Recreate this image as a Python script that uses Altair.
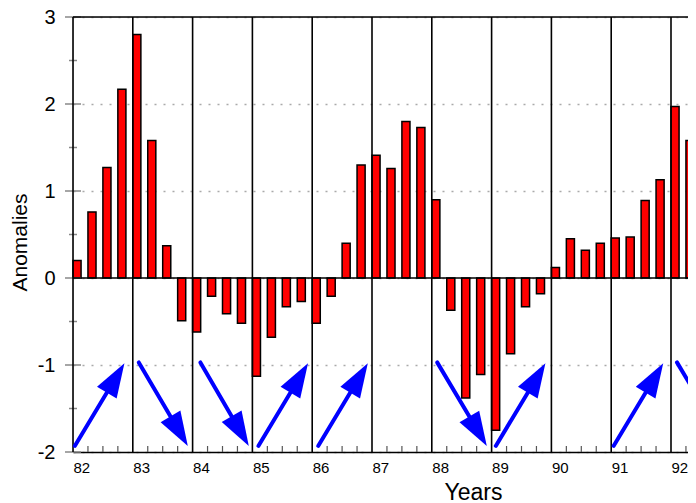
import math
import altair as alt
import pandas as pd

# ---- data ----
quarters = [82.0, 82.25, 82.5, 82.75, 83.0, 83.25, 83.5, 83.75,
            84.0, 84.25, 84.5, 84.75, 85.0, 85.25, 85.5, 85.75,
            86.0, 86.25, 86.5, 86.75, 87.0, 87.25, 87.5, 87.75,
            88.0, 88.25, 88.5, 88.75, 89.0, 89.25, 89.5, 89.75,
            90.0, 90.25, 90.5, 90.75, 91.0, 91.25, 91.5, 91.75,
            92.0, 92.25]
anomalies = [0.20, 0.76, 1.27, 2.17, 2.80, 1.58, 0.37, -0.49,
             -0.62, -0.21, -0.41, -0.52, -1.13, -0.68, -0.33, -0.27,
             -0.52, -0.21, 0.40, 1.30, 1.41, 1.26, 1.80, 1.73,
             0.90, -0.37, -1.38, -1.11, -1.75, -0.87, -0.33, -0.18,
             0.12, 0.45, 0.32, 0.40, 0.46, 0.47, 0.89, 1.13,
             1.97, 1.58]
years = [82, 83, 84, 85, 86, 87, 88, 89, 90, 91, 92]
arrow_x0 = [82.03, 83.10, 84.13, 85.10, 86.10, 88.09, 89.07, 91.04, 92.10]
arrow_y0 = [-1.93, -0.97, -0.97, -1.93, -1.93, -0.97, -1.93, -1.93, -0.97]
arrow_x1 = [82.86, 83.92, 84.94, 85.93, 86.93, 88.92, 89.90, 91.87, 92.93]
arrow_y1 = [-0.98, -1.93, -1.93, -0.98, -0.98, -1.93, -0.98, -0.98, -1.93]
y_major = [-2, -1, 0, 1, 2, 3]
y_minor = [-1.5, -0.5, 0.5, 1.5, 2.5]
x_minor = [y + k * 0.25 for y in years for k in (1, 2, 3)]

# ---- layout ----
W, H = 615, 435
PX_PER_YEAR = 59.8
XMAX = 82 + W / PX_PER_YEAR
YMIN, YMAX = -2, 3
KY = H / (YMAX - YMIN)
FONT = "Liberation Sans"

xs = alt.Scale(domain=[82, XMAX], nice=False, zero=False)
ys = alt.Scale(domain=[YMIN, YMAX], nice=False, zero=False)

bars_df = pd.DataFrame({"t": quarters, "v": anomalies})
arr = pd.DataFrame({"x0": arrow_x0, "y0": arrow_y0, "x1": arrow_x1, "y1": arrow_y1})
arr["ang"] = [math.degrees(math.atan2((b - a) * PX_PER_YEAR, (d - c) * KY))
              for a, b, c, d in zip(arr.x0, arr.x1, arr.y0, arr.y1)]
arr["xs"] = arr.x0 + 0.75 * (arr.x1 - arr.x0)
arr["ys"] = arr.y0 + 0.75 * (arr.y1 - arr.y0)

x_axis = alt.Axis(values=years, format="d", grid=False, ticks=False, tickSize=0,
                  domain=True, domainColor="black", domainWidth=1.5,
                  labelAlign="left", labelBaseline="top", labelPadding=8,
                  labelFontSize=15, labelFont=FONT, labelColor="black",
                  labelFlush=False, labelOverlap=False,
                  title="Years", titleFontSize=23, titleFont=FONT,
                  titleFontWeight="normal", titleColor="black",
                  titleX=400, titleY=47, titleAlign="center",
                  titleBaseline="alphabetic")
y_axis = alt.Axis(values=y_major, grid=True, gridDash=[2, 7], gridColor="#aaaaaa",
                  gridWidth=1.5, domain=False, ticks=False, tickSize=0,
                  labelExpr="datum.value + ''",
                  labelPadding=18, labelFontSize=20, labelFont=FONT,
                  labelColor="black",
                  title="Anomalies", titleFontSize=21, titleFont=FONT,
                  titleFontWeight="normal", titleColor="black",
                  titleX=-53, titleY=225, titleAngle=270, titleAlign="center",
                  titleBaseline="middle")


def X(field):
    return alt.X(field, scale=xs, axis=x_axis)


def Y(field):
    return alt.Y(field, scale=ys, axis=y_axis)


bars = alt.Chart(bars_df).transform_calculate(
    t2="datum.t + 0.135"
).mark_bar(fill="#ff0000", stroke="black", strokeWidth=1.5).encode(
    x=X("t:Q"), x2="t2:Q", y=Y("v:Q"), y2=alt.datum(0),
)

ymaj = alt.Chart(pd.DataFrame({"v": y_major})).mark_rule(
    color="#888888", strokeWidth=1.5).encode(
    y=Y("v:Q"), x=alt.value(-8), x2=alt.value(8))
ymin_ = alt.Chart(pd.DataFrame({"v": y_minor})).mark_rule(
    color="#888888", strokeWidth=1.5).encode(
    y=Y("v:Q"), x=alt.value(-4), x2=alt.value(4))
xmin_ = alt.Chart(pd.DataFrame({"t": x_minor})).mark_rule(
    color="#555555", strokeWidth=1.2).encode(
    x=X("t:Q"), y=alt.value(H - 6), y2=alt.value(H))

year_lines = alt.Chart(pd.DataFrame({"t": years})).mark_rule(
    color="black", strokeWidth=1.6).encode(
    x=X("t:Q"), y=alt.value(0), y2=alt.value(H))
zero_line = alt.Chart(pd.DataFrame({"v": [0]})).mark_rule(
    color="black", strokeWidth=1.6).encode(
    y=Y("v:Q"), x=alt.value(0), x2=alt.value(W))
top_line = alt.Chart(pd.DataFrame({"v": [YMAX]})).mark_rule(
    color="black", strokeWidth=1.6).encode(
    y=Y("v:Q"), x=alt.value(0), x2=alt.value(W))

shafts = alt.Chart(arr).mark_rule(color="#0000ff", strokeWidth=4,
                                  strokeCap="round").encode(
    x=X("x0:Q"), x2="xs:Q", y=Y("y0:Q"), y2="ys:Q")
heads = alt.Chart(arr).mark_point(
    shape="M0,0 L-0.67,2 L0.67,2 Z", filled=True, size=1170,
    color="#0000ff", opacity=1, strokeWidth=0).encode(
    x=X("x1:Q"), y=Y("y1:Q"),
    angle=alt.Angle("ang:Q", scale=None))

chart = alt.layer(
    bars, ymaj, ymin_, xmin_, year_lines, zero_line, top_line, shafts, heads
).properties(
    width=W, height=H,
    padding={"left": 65, "top": 9, "right": 0, "bottom": 51},
    autosize=alt.AutoSizeParams(type="none"),
).configure_view(stroke=None).configure(background="white")

chart.save("out.html", embed_options={"renderer": "svg", "actions": False})
